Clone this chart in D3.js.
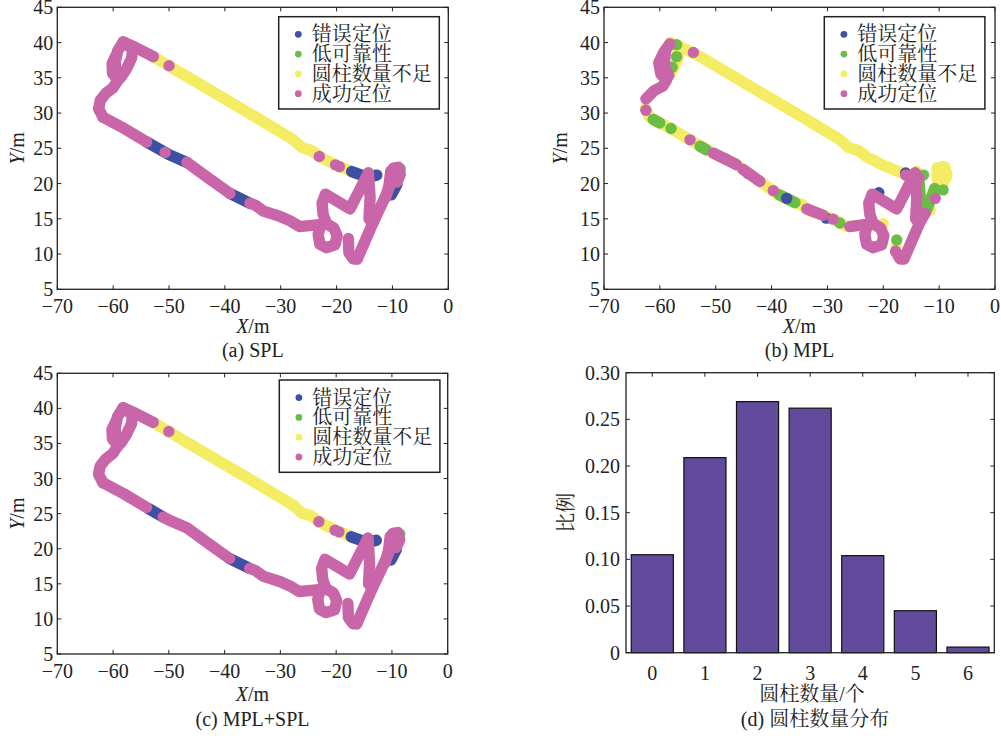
<!DOCTYPE html>
<html><head><meta charset="utf-8">
<script src="https://cdn.jsdelivr.net/npm/d3@7"></script>
<style>body{margin:0;background:#fff}</style>
</head><body>
<svg id="fig" width="1001" height="740" xmlns="http://www.w3.org/2000/svg"></svg>
<script>
// ---------- data ----------
const categories = ['错误定位','低可靠性','圆柱数量不足','成功定位'];
const catKeys = ['blue','green','yellow','pink'];
const catColors = {blue:'#3d50a3', green:'#6bbd46', yellow:'#f4ec62', pink:'#c966a9'};
const xTicks = [-70,-60,-50,-40,-30,-20,-10,0];
const yTicks = [5,10,15,20,25,30,35,40,45];
const barCats = [0,1,2,3,4,5,6];
const barValues = [0.105,0.209,0.269,0.262,0.104,0.045,0.006];
const barYTicks = [0,0.05,0.10,0.15,0.20,0.25,0.30];
const barYTickLabels = ['0','0.05','0.10','0.15','0.20','0.25','0.30'];

// trajectory geometry (X, Y in metres)
const CORNER = [[-58.2,40.1],[-56.0,39.3],[-52.8,38.0]];
const TOP_MAIN = [[-52.8,38.0],[-46,34.8],[-40,32.0],[-34,29.2],[-27.7,26.2],[-26.2,25.1],[-24.5,24.7],[-23.0,23.8],[-20.0,22.6],[-17.3,21.7]];
const TOP_END = [[-17.3,21.7],[-14.5,20.9],[-12.8,21.2]];
const LOOP_L1 = [[-58.2,40.1],[-59.2,38.8],[-59.6,37.3],[-59.6,36.2],[-59.2,35.0]];
const LOOP_L2 = [[-59.4,38.3],[-60.2,37.0],[-60.1,35.6],[-59.2,34.8]];
const LOOP_R = [[-57.8,39.9],[-56.5,39.0],[-56.7,37.8],[-57.6,36.3],[-58.5,35.2],[-59.2,34.6]];
const LEFT_DOWN = [[-59.2,34.6],[-60.0,33.6],[-61.3,32.8],[-62.3,31.8],[-62.6,30.6],[-61.8,29.4]];
const BOTTOM = [[-61.8,29.4],[-58.0,27.8],[-54.0,25.9],[-50.0,24.1],[-46.8,23.0],[-43.0,20.8],[-39.1,18.6],[-35.5,17.2],[-34.5,16.9],[-33.1,16.1],[-30.0,15.3],[-28.3,14.7],[-26.6,13.9],[-24.0,14.1],[-22.8,14.2]];
const R_LOOP = [[-22.8,14.2],[-23.3,12.8],[-23.0,11.4],[-21.8,10.9],[-20.3,11.3],[-19.9,12.6],[-20.5,13.7],[-21.8,14.3]];
const R_ZIG = [[-21.8,14.3],[-22.4,15.6],[-22.6,17.2],[-22.0,18.5],[-17.6,16.4],[-14.3,21.5]];
const R_VERT = [[-14.3,21.5],[-14.0,18.0],[-14.2,15.0],[-13.5,14.4]];
const R_J = [[-17.9,12.2],[-17.8,10.2],[-17.0,9.3],[-16.3,9.3]];
const R_DIAG = [[-16.3,9.3],[-13.5,14.4],[-11.0,18.6],[-9.5,21.5]];
const R_HOOK = [[-9.5,21.5],[-9.8,22.2],[-9.0,22.3],[-8.6,21.3],[-9.2,20.2]];
const R_SPUR = [[-10.3,21.8],[-10.6,19.8],[-11.2,18.0]];

// (a) SPL
const splBlue = [[[-54.0,25.9],[-50.0,24.1],[-46.8,23.0]], [[-39.1,18.6],[-35.5,17.2]], TOP_END, [[-10.2,18.4],[-9.2,19.9]]];
const splGreen = [[[-8.6,22.1]]];
const splYellow = [TOP_MAIN];
const splPink = [CORNER, LOOP_L1, LOOP_L2, LOOP_R, LEFT_DOWN,
  [[-61.8,29.4],[-58.0,27.8],[-54.0,25.9]], [[-50.7,24.4]],
  [[-46.8,23.0],[-43.0,20.8],[-39.1,18.6]],
  [[-35.5,17.2],[-34.5,16.9],[-33.1,16.1],[-30.0,15.3],[-28.3,14.7],[-26.6,13.9],[-24.0,14.1],[-22.8,14.2]],
  [[-50.0,36.7]], [[-23.1,23.85]], [[-20.2,22.65]], [[-19.5,22.4]],
  R_LOOP, R_ZIG, R_VERT, R_J, R_DIAG, R_HOOK, R_SPUR];

// (b) MPL
const mplBlue = [[[-37.3,17.9]], [[-30.2,15.1]], [[-16.0,21.5]], [[-20.8,18.7]]];
const mplGreen = [[[-61.2,29.1],[-60.0,28.6]], [[-58.0,27.8]], [[-52.8,25.3],[-51.7,24.8]], [[-48.2,23.5]],
  [[-44.2,21.4]], [[-38.6,18.4],[-35.8,17.3]], [[-27.8,14.4]], [[-57.0,38.0]], [[-57.8,36.5]], [[-57.0,39.7]],
  [[-13.6,20.3],[-13.3,17.3]], [[-12.2,16.3],[-10.8,19.3]], [[-12.8,21.2]], [[-17.6,12.0]], [[-9.3,19.1]]];
const mplYellow = [[[-58.2,40.0],[-56.0,39.3],[-52.8,38.0],[-46,34.8],[-40,32.0],[-34,29.2],[-27.7,26.2],[-26.2,25.1],[-24.5,24.7],[-23.0,23.8],[-20.0,22.6],[-17.3,21.7],[-14.5,20.9],[-13.2,21.3]],
  LOOP_R, [[-62.6,30.6],[-61.8,29.4]], BOTTOM, R_HOOK, [[-10.3,21.8],[-10.3,20.5]],
  [[-10.4,22.2],[-9.2,22.4],[-8.8,20.8],[-10.0,20.2]],
  [[-14.0,21.7]], [[-20.0,14.3]], [[-17.7,11.1]], [[-11.6,16.2]], [[-34.6,17.1]]];
const mplPink = [[[-58.2,39.8],[-59.3,38.6],[-60.2,37.1],[-59.8,35.5],[-58.8,34.7],[-59.5,33.8],[-61.0,33.2],[-62.5,32.0]],
  [[-59.0,38.8],[-59.2,36.8],[-58.4,35.3]],
  [[-62.5,30.4]], [[-54.0,38.6]], [[-54.6,26.2]], [[-50.4,24.3],[-46.3,22.7]], [[-45.1,22.0],[-42.1,20.3]],
  [[-39.7,19.0]], [[-33.7,16.4],[-30.8,15.5]], [[-29.0,14.95]], [[-26.0,13.9],[-24.0,14.1],[-22.8,14.2]],
  R_LOOP, R_ZIG, R_VERT, [[-16.0,21.2],[-13.6,20.8]], [[-17.8,10.4],[-17.0,9.3],[-16.3,9.3],[-13.5,14.4],[-12.5,15.8]],
  [[-10.7,17.9]]];

// (c) MPL+SPL
const bothBlue = [[[-53.6,25.7],[-51.0,24.5]], [[-39.1,18.6],[-35.5,17.2]], TOP_END, [[-10.2,18.4],[-9.2,19.9]]];
const bothGreen = [[[-8.6,22.1]]];
const bothYellow = [TOP_MAIN];
const bothPink = [CORNER, LOOP_L1, LOOP_L2, LOOP_R, LEFT_DOWN,
  [[-61.8,29.4],[-58.0,27.8],[-54.0,25.9]],
  [[-51.0,24.5],[-50.0,24.1],[-46.8,23.0],[-43.0,20.8],[-39.1,18.6]],
  [[-35.5,17.2],[-34.5,16.9],[-33.1,16.1],[-30.0,15.3],[-28.3,14.7],[-26.6,13.9],[-24.0,14.1],[-22.8,14.2]],
  [[-50.0,36.7]], [[-23.1,23.85]], [[-20.2,22.65]], [[-19.5,22.4]],
  R_LOOP, R_ZIG, R_VERT, R_J, R_DIAG, R_HOOK, R_SPUR];

// ---------- drawing ----------
const svg = d3.select('#fig');
const SERIF = '"Liberation Serif","Times New Roman",serif';
const CJK = '"Liberation Serif","Noto Serif CJK SC","Noto Sans CJK SC",serif';
const fmt = v => (v < 0 ? '\u2212' + Math.abs(v) : String(v));
const TL = 4;
const SW = 11.4;

const panels = [
  {layers:{blue:splBlue,green:splGreen,yellow:splYellow,pink:splPink}, x0:57.3, x1:448.3, y0:7.3, y1:289.3,
   cap:'(a) SPL', capY:357, xlabY:333, ylabX:24, lx:278.7, ly:16.7},
  {layers:{blue:mplBlue,green:mplGreen,yellow:mplYellow,pink:mplPink}, x0:604, x1:995, y0:7.3, y1:289.3,
   cap:'(b) MPL', capY:357, xlabY:333, ylabX:567, lx:824.3, ly:16.7},
  {layers:{blue:bothBlue,green:bothGreen,yellow:bothYellow,pink:bothPink}, x0:57.3, x1:447.7, y0:373.3, y1:654,
   cap:'(c) MPL+SPL', capY:726, xlabY:701, ylabX:24, lx:279.3, ly:380}
];

panels.forEach(p => {
  const x = d3.scaleLinear().domain([-70,0]).range([p.x0,p.x1]);
  const y = d3.scaleLinear().domain([5,45]).range([p.y1,p.y0]);
  const g = svg.append('g');
  const line = d3.line().x(d => x(d[0])).y(d => y(d[1]));
  ['yellow','green','blue','pink'].forEach(k => {
    p.layers[k].forEach(poly => {
      if (poly.length === 1) {
        g.append('circle').attr('cx', x(poly[0][0])).attr('cy', y(poly[0][1])).attr('r', SW/2).attr('fill', catColors[k]);
      } else {
        g.append('path').attr('d', line(poly)).attr('fill','none').attr('stroke', catColors[k])
          .attr('stroke-width', SW).attr('stroke-linecap','round').attr('stroke-linejoin','round');
      }
    });
  });
  // frame
  g.append('rect').attr('x', p.x0).attr('y', p.y0).attr('width', p.x1-p.x0).attr('height', p.y1-p.y0)
    .attr('fill','none').attr('stroke','#222').attr('stroke-width',1.3);
  xTicks.forEach(t => {
    const X = x(t);
    g.append('line').attr('x1',X).attr('x2',X).attr('y1',p.y1).attr('y2',p.y1-TL).attr('stroke','#222');
    g.append('line').attr('x1',X).attr('x2',X).attr('y1',p.y0).attr('y2',p.y0+TL).attr('stroke','#222');
    g.append('text').attr('x',X).attr('y',p.y1+24).attr('text-anchor','middle')
      .attr('font-family',SERIF).attr('font-size',20).attr('fill','#222').text(fmt(t));
  });
  yTicks.forEach(t => {
    const Y = y(t);
    g.append('line').attr('x1',p.x0).attr('x2',p.x0+TL).attr('y1',Y).attr('y2',Y).attr('stroke','#222');
    g.append('line').attr('x1',p.x1).attr('x2',p.x1-TL).attr('y1',Y).attr('y2',Y).attr('stroke','#222');
    g.append('text').attr('x',p.x0-4).attr('y',Y+7).attr('text-anchor','end')
      .attr('font-family',SERIF).attr('font-size',20).attr('fill','#222').text(fmt(t));
  });
  const xl = g.append('text').attr('x',(p.x0+p.x1)/2).attr('y',p.xlabY).attr('text-anchor','middle')
    .attr('font-family',SERIF).attr('font-size',20).attr('fill','#222');
  xl.append('tspan').attr('font-style','italic').text('X');
  xl.append('tspan').text('/m');
  const yl = g.append('text').attr('transform',`translate(${p.ylabX},${(p.y0+p.y1)/2}) rotate(-90)`)
    .attr('text-anchor','middle').attr('font-family',SERIF).attr('font-size',20).attr('fill','#222');
  yl.append('tspan').attr('font-style','italic').text('Y');
  yl.append('tspan').text('/m');
  g.append('text').attr('x',(p.x0+p.x1)/2).attr('y',p.capY).attr('text-anchor','middle')
    .attr('font-family',SERIF).attr('font-size',20).attr('fill','#222').text(p.cap);
  // legend
  const lg = g.append('g').attr('transform',`translate(${p.lx},${p.ly})`);
  lg.append('rect').attr('width',160.6).attr('height',92.3).attr('fill','#fff').attr('stroke','#222').attr('stroke-width',1.5);
  categories.forEach((c,i) => {
    const cy = 17.6 + i*19.8;
    lg.append('circle').attr('cx',19.6).attr('cy',cy).attr('r',3.4).attr('fill',catColors[catKeys[i]]);
    lg.append('text').attr('x',33).attr('y',cy+7).attr('font-family',CJK).attr('font-size',20).attr('fill','#222').text(c);
  });
});

// (d) bar chart
{
  const x0=626, x1=994.3, y0=372.7, y1=652.7;
  const x = d3.scaleLinear().domain([-0.5,6.5]).range([x0,x1]);
  const y = d3.scaleLinear().domain([0,0.30]).range([y1,y0]);
  const g = svg.append('g');
  const bw = x(0.4) - x(-0.4);
  g.selectAll('rect.bar').data(barValues).enter().append('rect').attr('class','bar')
    .attr('x',(d,i)=>x(barCats[i])-bw/2).attr('width',bw)
    .attr('y',d=>y(d)).attr('height',d=>y1-y(d))
    .attr('fill','#624a9c').attr('stroke','#111').attr('stroke-width',1.2);
  g.append('rect').attr('x',x0).attr('y',y0).attr('width',x1-x0).attr('height',y1-y0)
    .attr('fill','none').attr('stroke','#222').attr('stroke-width',1.3);
  barCats.forEach(c => {
    const X = x(c);
    g.append('line').attr('x1',X).attr('x2',X).attr('y1',y0).attr('y2',y0+TL).attr('stroke','#222');
    g.append('text').attr('x',X).attr('y',y1+27).attr('text-anchor','middle')
      .attr('font-family',SERIF).attr('font-size',20).attr('fill','#222').text(String(c));
  });
  barYTicks.forEach((t,i) => {
    const Y = y(t);
    g.append('line').attr('x1',x0).attr('x2',x0+TL).attr('y1',Y).attr('y2',Y).attr('stroke','#222');
    g.append('line').attr('x1',x1).attr('x2',x1-TL).attr('y1',Y).attr('y2',Y).attr('stroke','#222');
    g.append('text').attr('x',x0-6).attr('y',Y+7).attr('text-anchor','end')
      .attr('font-family',SERIF).attr('font-size',20).attr('fill','#222').text(barYTickLabels[i]);
  });
  g.append('text').attr('x',812).attr('y',701).attr('text-anchor','middle')
    .attr('font-family',CJK).attr('font-size',20).attr('fill','#222').text('圆柱数量/个');
  g.append('text').attr('transform',`translate(573,${(y0+y1)/2}) rotate(-90)`).attr('text-anchor','middle')
    .attr('font-family',CJK).attr('font-size',20).attr('fill','#222').text('比例');
  g.append('text').attr('x',815).attr('y',726).attr('text-anchor','middle')
    .attr('font-family',CJK).attr('font-size',20).attr('fill','#222').text('(d) 圆柱数量分布');
}
</script>
</body></html>
